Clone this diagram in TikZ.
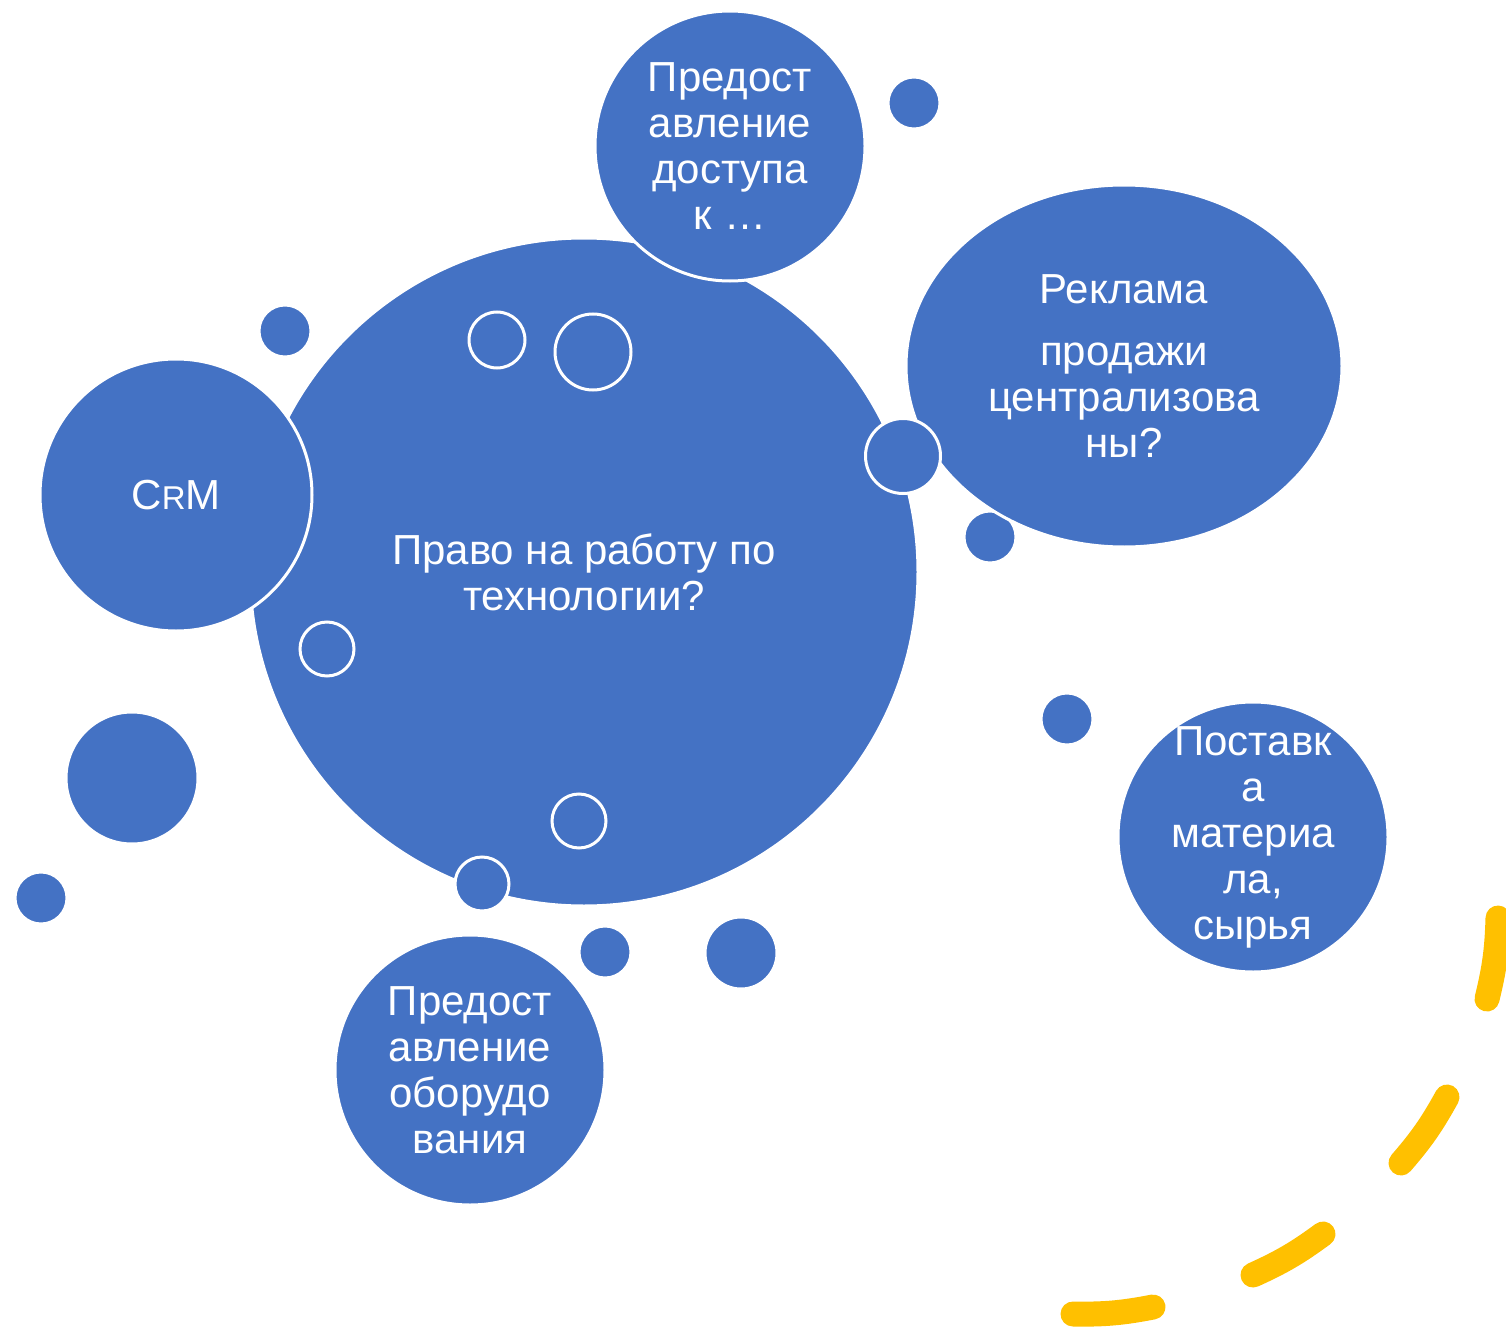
\documentclass[tikz,border=0pt]{standalone}
\usepackage{fontspec}
\setmainfont{Liberation Sans}
\usetikzlibrary{shapes.geometric}
\definecolor{bblue}{HTML}{4472C4}
\definecolor{byellow}{HTML}{FFC000}
\begin{document}
\begin{tikzpicture}[x=0.5pt,y=-0.5pt,
  bub/.style={circle, fill=bblue, draw=white, line width=1.5pt, inner sep=0pt, outer sep=0pt},
  ell/.style={ellipse, fill=bblue, draw=white, line width=1.5pt, inner sep=0pt, outer sep=0pt},
  lbl/.style={text=white, align=center, font=\fontsize{21}{23}\selectfont, inner sep=0pt},
  dashseg/.style={draw=byellow, line width=12.5pt, line cap=round}]
\useasboundingbox (0,0) rectangle (1506,1327);

% small filled dots
\node[bub, minimum size=26pt] (d1) at (914,103) {};
\node[bub, minimum size=26pt] (d2) at (285,331) {};
\node[bub, minimum size=26pt] (d3) at (990,537) {};
\node[bub, minimum size=26pt] (d4) at (1067,719) {};
\node[bub, minimum size=66pt] (d5) at (132,778) {};
\node[bub, minimum size=26pt] (d6) at (41,898) {};
\node[bub, minimum size=26pt] (d7) at (605,952) {};
\node[bub, minimum size=36pt] (d8) at (741,953) {};

% main circle
\node[bub, minimum size=334pt] (main) at (584,572) {};
\node[bub, minimum size=28pt] (o1) at (497,340) {};
\node[bub, minimum size=38pt] (o2) at (593,352) {};
\node[bub, minimum size=27pt] (o3) at (327,649) {};
\node[bub, minimum size=27pt] (o4) at (579,821) {};

% satellite shapes
\node[bub, minimum size=135pt] (top) at (730,146) {};
\node[bub, minimum size=136pt] (crm) at (176,495) {};
\node[ell, minimum width=218pt, minimum height=181pt] (rek) at (1124,366) {};
\node[bub, minimum size=135pt] (bot) at (470,1070) {};
\node[bub, minimum size=135pt] (pos) at (1253,837) {};

% outlined joints
\node[bub, minimum size=37.5pt] (o5) at (903,456) {};
\node[bub, minimum size=27pt] (o6) at (482,884) {};

% texts
\node[lbl] (mainT) at (main) {Право на работу по\\технологии?};
\node[lbl] (topT) at (top) {Предост\\авление\\доступа\\к …};
\node[lbl] (crmT) at (crm) {C{\fontsize{16.5}{18}\selectfont R}M};
\node[lbl] (rekT) at (rek) {Реклама\\[8pt]продажи\\централизова\\ны?};
\node[lbl] (botT) at (bot) {Предост\\авление\\оборудо\\вания};
\node[lbl] (posT) at (pos) {Поставк\\а\\материа\\ла,\\сырья};

% yellow dashed arc
\draw[dashseg] (1498,918) to[bend left=6] (1487,999);
\draw[dashseg] (1447,1097) to[bend left=6] (1401,1163);
\draw[dashseg] (1323,1234) to[bend left=6] (1253,1275);
\draw[dashseg] (1153,1307) to[bend left=6] (1073,1314);
\end{tikzpicture}
\end{document}
